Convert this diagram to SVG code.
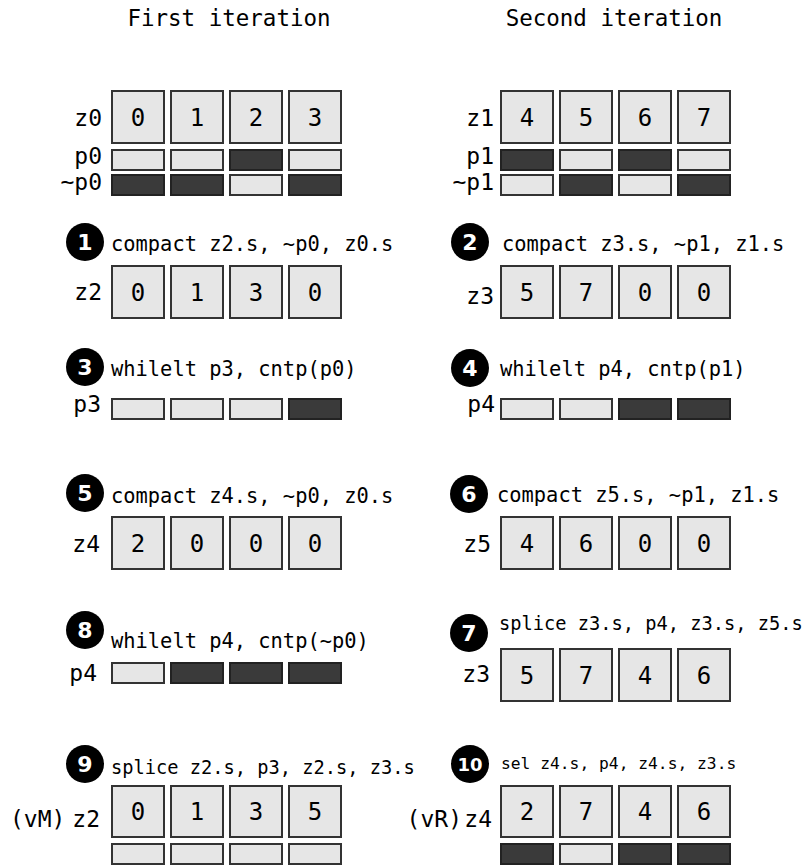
<svg xmlns="http://www.w3.org/2000/svg" width="804" height="867" viewBox="0 0 804 867">
<style>
text{font-family:"DejaVu Sans Mono","Liberation Mono",monospace;fill:#000}
.title{font-size:22.5px;text-anchor:middle}
.lbl{font-size:23px;text-anchor:end}
.lbls{font-size:23px}
.ins{font-size:20.4px}
.ins2{font-size:18.7px}
.ins3{font-size:16.3px}
.box{fill:#e6e6e6;stroke:#333;stroke-width:2}
.val{font-size:24px;text-anchor:middle}
.pl{fill:#e6e6e6;stroke:#333;stroke-width:2}
.pd{fill:#3a3a3a;stroke:#222;stroke-width:2}
.step circle{fill:#000}
.step text{fill:#fff;font-family:"DejaVu Sans","Liberation Sans",sans-serif;font-weight:bold;font-size:22px;text-anchor:middle}
</style>
<rect width="804" height="867" fill="#fff"/>
<text class="title" x="229" y="26">First iteration</text>
<text class="title" x="614" y="26">Second iteration</text>

<!-- First iteration -->
<g id="z0">
<text class="lbl" x="102" y="126">z0</text>
<rect class="box" x="112" y="91" width="52" height="52"/><text class="val" x="138" y="126">0</text>
<rect class="box" x="171" y="91" width="52" height="52"/><text class="val" x="197" y="126">1</text>
<rect class="box" x="230" y="91" width="52" height="52"/><text class="val" x="256" y="126">2</text>
<rect class="box" x="289" y="91" width="52" height="52"/><text class="val" x="315" y="126">3</text>
</g>
<g id="p0">
<text class="lbl" x="102" y="164">p0</text>
<rect class="pl" x="112" y="150" width="52" height="20"/>
<rect class="pl" x="171" y="150" width="52" height="20"/>
<rect class="pd" x="230" y="150" width="52" height="20"/>
<rect class="pl" x="289" y="150" width="52" height="20"/>
</g>
<g id="np0">
<text class="lbl" x="102" y="190">~p0</text>
<rect class="pd" x="112" y="175" width="52" height="20"/>
<rect class="pd" x="171" y="175" width="52" height="20"/>
<rect class="pl" x="230" y="175" width="52" height="20"/>
<rect class="pd" x="289" y="175" width="52" height="20"/>
</g>
<g id="step1" class="step"><circle cx="85" cy="242" r="19"/><text x="85" y="250">1</text></g>
<text class="ins" x="111" y="251">compact z2.s, ~p0, z0.s</text>
<g id="z2">
<text class="lbl" x="102" y="300">z2</text>
<rect class="box" x="112" y="266" width="52" height="52"/><text class="val" x="138" y="301">0</text>
<rect class="box" x="171" y="266" width="52" height="52"/><text class="val" x="197" y="301">1</text>
<rect class="box" x="230" y="266" width="52" height="52"/><text class="val" x="256" y="301">3</text>
<rect class="box" x="289" y="266" width="52" height="52"/><text class="val" x="315" y="301">0</text>
</g>
<g id="step3" class="step"><circle cx="85" cy="367" r="19"/><text x="85" y="375">3</text></g>
<text class="ins" x="111" y="376">whilelt p3, cntp(p0)</text>
<g id="p3">
<text class="lbl" x="101" y="412">p3</text>
<rect class="pl" x="112" y="399" width="52" height="20"/>
<rect class="pl" x="171" y="399" width="52" height="20"/>
<rect class="pl" x="230" y="399" width="52" height="20"/>
<rect class="pd" x="289" y="399" width="52" height="20"/>
</g>
<g id="step5" class="step"><circle cx="85" cy="493" r="19"/><text x="85" y="501">5</text></g>
<text class="ins" x="111" y="503">compact z4.s, ~p0, z0.s</text>
<g id="z4">
<text class="lbl" x="100" y="552">z4</text>
<rect class="box" x="112" y="517" width="52" height="52"/><text class="val" x="138" y="552">2</text>
<rect class="box" x="171" y="517" width="52" height="52"/><text class="val" x="197" y="552">0</text>
<rect class="box" x="230" y="517" width="52" height="52"/><text class="val" x="256" y="552">0</text>
<rect class="box" x="289" y="517" width="52" height="52"/><text class="val" x="315" y="552">0</text>
</g>
<g id="step8" class="step"><circle cx="85" cy="630" r="19"/><text x="85" y="638">8</text></g>
<text class="ins" x="111" y="648">whilelt p4, cntp(~p0)</text>
<g id="p4a">
<text class="lbl" x="97" y="681">p4</text>
<rect class="pl" x="112" y="663" width="52" height="20"/>
<rect class="pd" x="171" y="663" width="52" height="20"/>
<rect class="pd" x="230" y="663" width="52" height="20"/>
<rect class="pd" x="289" y="663" width="52" height="20"/>
</g>
<g id="step9" class="step"><circle cx="85" cy="764" r="19"/><text x="85" y="772">9</text></g>
<text class="ins2" x="111" y="774">splice z2.s, p3, z2.s, z3.s</text>
<g id="vM">
<text class="lbls" x="10" y="827">(vM)</text>
<text class="lbl" x="100" y="827">z2</text>
<rect class="box" x="112" y="786" width="52" height="51"/><text class="val" x="138" y="820">0</text>
<rect class="box" x="171" y="786" width="52" height="51"/><text class="val" x="197" y="820">1</text>
<rect class="box" x="230" y="786" width="52" height="51"/><text class="val" x="256" y="820">3</text>
<rect class="box" x="289" y="786" width="52" height="51"/><text class="val" x="315" y="820">5</text>
<rect class="pl" x="112" y="844" width="52" height="20"/>
<rect class="pl" x="171" y="844" width="52" height="20"/>
<rect class="pl" x="230" y="844" width="52" height="20"/>
<rect class="pl" x="289" y="844" width="52" height="20"/>
</g>

<!-- Second iteration -->
<g id="z1">
<text class="lbl" x="494" y="126">z1</text>
<rect class="box" x="501" y="91" width="52" height="52"/><text class="val" x="527" y="126">4</text>
<rect class="box" x="560" y="91" width="52" height="52"/><text class="val" x="586" y="126">5</text>
<rect class="box" x="619" y="91" width="52" height="52"/><text class="val" x="645" y="126">6</text>
<rect class="box" x="678" y="91" width="52" height="52"/><text class="val" x="704" y="126">7</text>
</g>
<g id="p1">
<text class="lbl" x="494" y="164">p1</text>
<rect class="pd" x="501" y="150" width="52" height="20"/>
<rect class="pl" x="560" y="150" width="52" height="20"/>
<rect class="pd" x="619" y="150" width="52" height="20"/>
<rect class="pl" x="678" y="150" width="52" height="20"/>
</g>
<g id="np1">
<text class="lbl" x="494" y="190">~p1</text>
<rect class="pl" x="501" y="175" width="52" height="20"/>
<rect class="pd" x="560" y="175" width="52" height="20"/>
<rect class="pl" x="619" y="175" width="52" height="20"/>
<rect class="pd" x="678" y="175" width="52" height="20"/>
</g>
<g id="step2" class="step"><circle cx="470" cy="242" r="19"/><text x="470" y="250">2</text></g>
<text class="ins" x="502" y="251">compact z3.s, ~p1, z1.s</text>
<g id="z3">
<text class="lbl" x="494" y="304">z3</text>
<rect class="box" x="501" y="266" width="52" height="52"/><text class="val" x="527" y="301">5</text>
<rect class="box" x="560" y="266" width="52" height="52"/><text class="val" x="586" y="301">7</text>
<rect class="box" x="619" y="266" width="52" height="52"/><text class="val" x="645" y="301">0</text>
<rect class="box" x="678" y="266" width="52" height="52"/><text class="val" x="704" y="301">0</text>
</g>
<g id="step4" class="step"><circle cx="470" cy="368" r="19"/><text x="470" y="376">4</text></g>
<text class="ins" x="500" y="376">whilelt p4, cntp(p1)</text>
<g id="p4b">
<text class="lbl" x="495" y="412">p4</text>
<rect class="pl" x="501" y="399" width="52" height="20"/>
<rect class="pl" x="560" y="399" width="52" height="20"/>
<rect class="pd" x="619" y="399" width="52" height="20"/>
<rect class="pd" x="678" y="399" width="52" height="20"/>
</g>
<g id="step6" class="step"><circle cx="469" cy="494" r="19"/><text x="469" y="502">6</text></g>
<text class="ins" x="497" y="502">compact z5.s, ~p1, z1.s</text>
<g id="z5">
<text class="lbl" x="491" y="552">z5</text>
<rect class="box" x="501" y="517" width="52" height="52"/><text class="val" x="527" y="552">4</text>
<rect class="box" x="560" y="517" width="52" height="52"/><text class="val" x="586" y="552">6</text>
<rect class="box" x="619" y="517" width="52" height="52"/><text class="val" x="645" y="552">0</text>
<rect class="box" x="678" y="517" width="52" height="52"/><text class="val" x="704" y="552">0</text>
</g>
<g id="step7" class="step"><circle cx="469" cy="633" r="19"/><text x="469" y="641">7</text></g>
<text class="ins2" x="499" y="630">splice z3.s, p4, z3.s, z5.s</text>
<g id="z3b">
<text class="lbl" x="490" y="682">z3</text>
<rect class="box" x="501" y="649" width="52" height="52"/><text class="val" x="527" y="684">5</text>
<rect class="box" x="560" y="649" width="52" height="52"/><text class="val" x="586" y="684">7</text>
<rect class="box" x="619" y="649" width="52" height="52"/><text class="val" x="645" y="684">4</text>
<rect class="box" x="678" y="649" width="52" height="52"/><text class="val" x="704" y="684">6</text>
</g>
<g id="step10" class="step"><circle cx="470" cy="764" r="19"/><text x="470" y="771" style="font-size:18px">10</text></g>
<text class="ins3" x="501" y="769">sel z4.s, p4, z4.s, z3.s</text>
<g id="vR">
<text class="lbl" x="462" y="827">(vR)</text>
<text class="lbl" x="492" y="827">z4</text>
<rect class="box" x="501" y="786" width="52" height="51"/><text class="val" x="527" y="820">2</text>
<rect class="box" x="560" y="786" width="52" height="51"/><text class="val" x="586" y="820">7</text>
<rect class="box" x="619" y="786" width="52" height="51"/><text class="val" x="645" y="820">4</text>
<rect class="box" x="678" y="786" width="52" height="51"/><text class="val" x="704" y="820">6</text>
<rect class="pd" x="501" y="844" width="52" height="20"/>
<rect class="pl" x="560" y="844" width="52" height="20"/>
<rect class="pd" x="619" y="844" width="52" height="20"/>
<rect class="pd" x="678" y="844" width="52" height="20"/>
</g>
<g id="connectors"></g>
</svg>
